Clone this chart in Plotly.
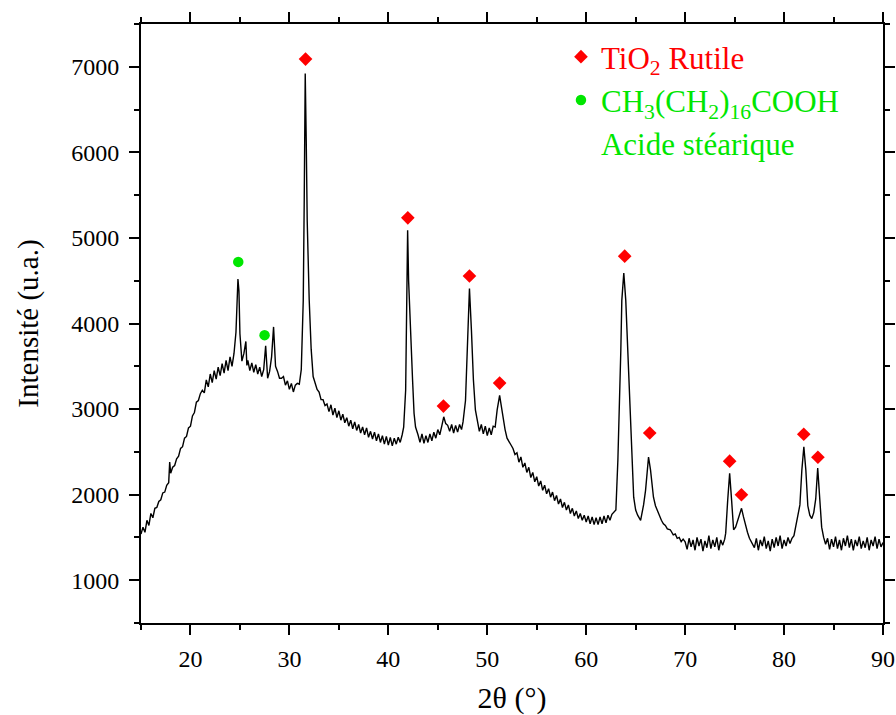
import plotly.graph_objects as go

# ---- XRD pattern (2theta in degrees, intensity in u.a.) ----
two_theta_hump = [
    15.0, 15.2, 15.4, 15.6, 15.8,
    16.0, 16.2, 16.4, 16.6, 16.8,
    17.0, 17.2, 17.4, 17.6, 17.8, 17.9,
    18.0, 18.2, 18.4, 18.6, 18.8,
    19.0, 19.2, 19.4, 19.6, 19.8,
    20.0, 20.2, 20.4, 20.6, 20.8,
    21.0, 21.2, 21.4, 21.6, 21.8,
    22.0, 22.2, 22.4, 22.6, 22.8,
    23.0, 23.2, 23.4, 23.6, 23.8,
    24.0, 24.2, 24.4, 24.6, 24.8, 24.9,
    25.0, 25.2, 25.4, 25.6, 25.7, 25.8,
    26.0, 26.2, 26.4, 26.6, 26.8,
    27.0, 27.2, 27.4, 27.6, 27.7, 27.8,
    28.0, 28.2, 28.4, 28.5, 28.6, 28.8,
    29.0, 29.2, 29.4, 29.6, 29.8,
    30.0, 30.2, 30.4, 30.6, 30.8,
    31.0,
]
intensity_hump = [
    1540, 1620, 1560, 1700, 1640,
    1780, 1730, 1840, 1850, 1920,
    1940, 2020, 2030, 2110, 2140, 2380,
    2250, 2320, 2340, 2420, 2450,
    2540, 2560, 2660, 2680, 2780,
    2800, 2920, 2960, 3080, 3100,
    3180, 3220, 3190, 3340, 3260,
    3410, 3310, 3450, 3350, 3490,
    3390, 3530, 3420, 3570, 3450,
    3610, 3500, 3650, 3900, 4520, 4380,
    3880, 3560, 3650, 3790, 3510, 3570,
    3450, 3540, 3430, 3520, 3410,
    3490, 3380, 3460, 3740, 3480, 3360,
    3440, 3610, 3960, 3700, 3500, 3440,
    3360, 3360, 3380, 3280, 3330,
    3230, 3300, 3200, 3280, 3300,
    3290,
]

two_theta_mid = [
    31.2, 31.4, 31.5, 31.6, 31.7, 31.8,
    32.0, 32.2, 32.4, 32.6, 32.8,
    33.0, 33.2, 33.4, 33.6, 33.8,
    34.0, 34.2, 34.4, 34.6, 34.8,
    35.0, 35.2, 35.4, 35.6, 35.8,
    36.0, 36.2, 36.4, 36.6, 36.8,
    37.0, 37.2, 37.4, 37.6, 37.8,
    38.0, 38.2, 38.4, 38.6, 38.8,
    39.0, 39.2, 39.4, 39.6, 39.8,
    40.0, 40.2, 40.4, 40.6, 40.8,
    41.0, 41.2, 41.4, 41.55, 41.75, 41.85, 41.95,
    42.05, 42.25, 42.45, 42.6, 42.75,
    43.0, 43.2, 43.4, 43.6, 43.8,
    44.0, 44.2, 44.4, 44.6, 44.8,
    45.0, 45.2, 45.4, 45.6, 45.8,
    46.0, 46.2, 46.4, 46.6, 46.8,
    47.0, 47.2, 47.4, 47.55, 47.8,
    48.0, 48.2, 48.4, 48.6, 48.8,
    49.0, 49.2, 49.4, 49.6, 49.8,
    50.0, 50.2, 50.4, 50.6, 50.8,
    51.0, 51.25, 51.4, 51.55, 51.8,
    52.0, 52.2, 52.4,
]
intensity_mid = [
    3460, 4270, 5450, 6920, 6150, 5200,
    4280, 3700, 3380, 3300, 3230,
    3200, 3110, 3110, 3040, 3060,
    2970, 3050, 2930, 3010, 2900,
    2980, 2870, 2940, 2840, 2900,
    2800, 2870, 2770, 2850, 2750,
    2820, 2720, 2790, 2700, 2780,
    2670, 2740, 2650, 2730, 2630,
    2710, 2610, 2690, 2590, 2680,
    2580, 2670, 2570, 2660, 2590,
    2670, 2610, 2700, 2790, 3220, 4270, 5090,
    4500, 3800, 3340, 2950, 2790,
    2700, 2610, 2710, 2600, 2690,
    2610, 2710, 2630, 2730, 2660,
    2760, 2700, 2800, 2910, 2830,
    2810, 2740, 2820, 2720, 2810,
    2730, 2820, 2760, 2850, 3100,
    3800, 4410, 3920, 3340, 2990,
    2860, 2740, 2820, 2710, 2800,
    2690, 2780, 2700, 2800, 2790,
    2990, 3160, 3050, 2930, 2760,
    2660, 2610, 2580,
]

two_theta_decay = [
    52.6, 52.8,
    53.0, 53.2, 53.4, 53.6, 53.8,
    54.0, 54.2, 54.4, 54.6, 54.8,
    55.0, 55.2, 55.4, 55.6, 55.8,
    56.0, 56.2, 56.4, 56.6, 56.8,
    57.0, 57.2, 57.4, 57.6, 57.8,
    58.0, 58.2, 58.4, 58.6, 58.8,
    59.0, 59.2, 59.4, 59.6, 59.8,
    60.0, 60.2, 60.4, 60.6, 60.8,
    61.0, 61.2, 61.4, 61.6, 61.8,
    62.0, 62.2, 62.4, 62.6, 62.8,
    63.0, 63.2, 63.3, 63.5, 63.6, 63.8,
    64.0, 64.2, 64.5, 64.8,
    65.0, 65.2, 65.5, 65.8,
    66.0, 66.3, 66.5, 66.8,
    67.0, 67.2, 67.4, 67.6, 67.8,
    68.0, 68.2, 68.5, 68.8,
    69.0, 69.2, 69.4, 69.6, 69.8,
]
intensity_decay = [
    2540, 2470,
    2490, 2380, 2440, 2320, 2370,
    2260, 2320, 2200, 2260, 2150,
    2210, 2100, 2160, 2050, 2110,
    2010, 2070, 1970, 2030, 1930,
    1990, 1890, 1950, 1850, 1910,
    1820, 1880, 1780, 1840, 1750,
    1810, 1720, 1780, 1700, 1760,
    1680, 1750, 1660, 1740, 1650,
    1730, 1650, 1740, 1660, 1750,
    1670, 1760, 1700, 1770, 1790,
    1820, 2400, 2750, 3690, 4270, 4590,
    4270, 3690, 2750, 1970,
    1820, 1760, 1700, 1880,
    2050, 2440, 2290, 1970,
    1870, 1810, 1750, 1700, 1660,
    1640, 1600, 1590, 1530,
    1540, 1490, 1500, 1450, 1480,
]

two_theta_high = [
    70.0, 70.2, 70.4, 70.6, 70.8,
    71.0, 71.2, 71.4, 71.6, 71.8,
    72.0, 72.2, 72.4, 72.6, 72.8,
    73.0, 73.2, 73.4, 73.6, 73.8,
    74.0, 74.1, 74.3, 74.5, 74.7, 74.9,
    75.1, 75.3, 75.5, 75.7, 75.9,
    76.1, 76.3, 76.5, 76.8,
    77.0, 77.2, 77.4, 77.6, 77.8,
    78.0, 78.2, 78.4, 78.6, 78.8,
    79.0, 79.2, 79.4, 79.6, 79.8,
    80.0, 80.2, 80.4, 80.6, 80.8,
    81.0, 81.2, 81.4, 81.6, 81.8,
    82.0, 82.2, 82.4, 82.6, 82.8,
    83.0, 83.2, 83.4, 83.6, 83.8,
    84.0, 84.2, 84.4, 84.6, 84.8,
    85.0, 85.2, 85.4, 85.6, 85.8,
    86.0, 86.2, 86.4, 86.6, 86.8,
    87.0, 87.2, 87.4, 87.6, 87.8,
    88.0, 88.2, 88.4, 88.6, 88.8,
    89.0, 89.2, 89.4, 89.6, 89.8,
    90.0,
]
intensity_high = [
    1450, 1360, 1490, 1390, 1470,
    1350, 1500, 1400, 1480, 1340,
    1460, 1380, 1520, 1370, 1470,
    1390, 1500, 1350, 1470, 1410,
    1480, 1550, 1930, 2250, 1930, 1590,
    1620, 1700, 1780, 1840, 1740,
    1640, 1560, 1490, 1430,
    1380, 1490, 1350, 1470, 1400,
    1510, 1370, 1460, 1340, 1480,
    1380, 1500, 1400, 1520, 1370,
    1470, 1400, 1500, 1430, 1490,
    1520, 1640, 1750, 1880, 2290,
    2560, 2290, 1870, 1760, 1720,
    1790, 1950, 2310, 1940, 1620,
    1500, 1420, 1490, 1360, 1480,
    1390, 1510, 1370, 1470, 1350,
    1490, 1400, 1520, 1380, 1480,
    1350, 1470, 1400, 1510, 1370,
    1460, 1380, 1500, 1350, 1470,
    1400, 1510, 1370, 1480, 1390,
    1440,
]

# ---- peak markers ----
rutile_theta = [31.63, 41.97, 45.57, 48.2, 51.25, 63.89, 66.42, 74.5, 75.69, 81.99, 83.42]
rutile_int = [7090, 5235, 3035, 4555, 3304, 4787, 2720, 2391, 1999, 2706, 2437]
stearic_theta = [24.83, 27.49]
stearic_int = [4720, 3864]

x_tick_values = [20, 30, 40, 50, 60, 70, 80, 90]
x_tick_labels = ["20", "30", "40", "50", "60", "70", "80", "90"]
y_tick_values = [1000, 2000, 3000, 4000, 5000, 6000, 7000]
y_tick_labels = ["1000", "2000", "3000", "4000", "5000", "6000", "7000"]

segments = [
    (two_theta_hump, intensity_hump),
    (two_theta_mid, intensity_mid),
    (two_theta_decay, intensity_decay),
    (two_theta_high, intensity_high),
]
two_theta, intensity = [], []
for sx, sy in segments:
    assert len(sx) == len(sy), (len(sx), len(sy), sx[0])
    two_theta += sx
    intensity += sy

RED = "#ff0000"
GREEN = "#00e600"
FONT = "Liberation Serif"

fig = go.Figure()
fig.add_trace(go.Scatter(
    x=two_theta, y=intensity, mode="lines",
    line=dict(color="black", width=1.4),
    showlegend=False, hoverinfo="x+y",
))
fig.add_trace(go.Scatter(
    x=rutile_theta, y=rutile_int, mode="markers",
    marker=dict(symbol="diamond", size=10.5, color=RED),
    name=f'<span style="color:{RED}">TiO<sub>2</sub> Rutile</span>',
    legendgroup="a",
))
fig.add_trace(go.Scatter(
    x=stearic_theta, y=stearic_int, mode="markers",
    marker=dict(symbol="circle", size=10.5, color=GREEN),
    name=f'<span style="color:{GREEN}">CH<sub>3</sub>(CH<sub>2</sub>)<sub>16</sub>COOH</span>',
    legendgroup="b",
))
fig.add_trace(go.Scatter(
    x=[None], y=[None], mode="markers",
    marker=dict(size=1, color="rgba(0,0,0,0)"),
    name=f'<span style="color:{GREEN}">Acide stéarique</span>',
    legendgroup="c",
))

axis_common = dict(
    showline=True, linecolor="black", linewidth=2,
    mirror="ticks", ticks="outside", ticklen=10, tickwidth=2, tickcolor="black",
    showgrid=False, zeroline=False, automargin=False,
    ticklabeloverflow="allow",
    tickfont=dict(family=FONT, size=24, color="black"),
)

fig.update_xaxes(
    range=[15, 90], tickmode="array", tickvals=x_tick_values, ticktext=x_tick_labels,
    minor=dict(dtick=5, tick0=0, ticks="outside", ticklen=5, tickwidth=2, tickcolor="black", showgrid=False),
    title=dict(text="2θ (°)", font=dict(family=FONT, size=30, color="black"), standoff=16),
    ticklabelstandoff=3,
    **axis_common,
)
fig.update_yaxes(
    range=[500, 7500], tickmode="array", tickvals=y_tick_values, ticktext=y_tick_labels,
    minor=dict(dtick=500, tick0=0, ticks="outside", ticklen=5, tickwidth=2, tickcolor="black", showgrid=False),
    title=dict(text="Intensité (u.a.)", font=dict(family=FONT, size=29, color="black"), standoff=24),
    ticklabelstandoff=5,
    **axis_common,
)

fig.update_layout(
    width=896, height=715, autosize=False,
    margin=dict(l=141, r=13, t=24, b=92),
    plot_bgcolor="white", paper_bgcolor="white",
    font=dict(family=FONT, size=24, color="black"),
    legend=dict(
        x=0.566, y=0.99, xanchor="left", yanchor="top",
        bgcolor="rgba(0,0,0,0)", borderwidth=0,
        font=dict(family=FONT, size=31),
        tracegroupgap=0, itemwidth=30,
    ),
)

# remove the default 8px page margin so the figure fills the 896x715 window exactly
fig.write_html(
    "out.html",
    config={"displayModeBar": False},
    post_script="document.body.style.margin='0px';document.body.style.overflow='hidden';",
)
